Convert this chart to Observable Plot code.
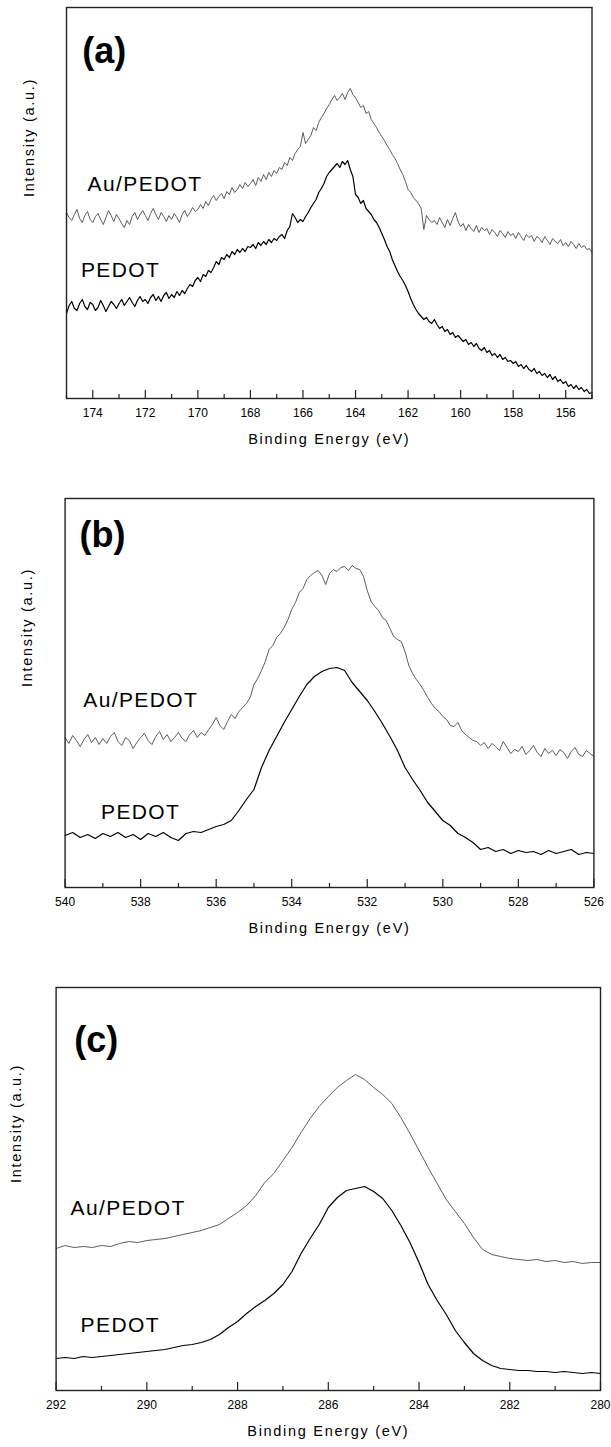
<!DOCTYPE html>
<html><head><meta charset="utf-8">
<script src="https://cdn.jsdelivr.net/npm/d3@7"></script>
<script src="https://cdn.jsdelivr.net/npm/@observablehq/plot@0.6"></script>
<style>
body{margin:0;background:#fff;}
#chart svg{display:block;}
</style></head><body><div id="chart"></div>
<script>
// ---------- Panel (a): S 2p region, 175 -> 155 eV, 0.1 eV grid ----------
const energyA = {start: 175, end: 155, step: 0.1};
const auPedotA = [
  186,181,178,184,189,180,176,183,187,179,
  176,182,185,179,174,181,188,183,177,184,
  180,175,171,178,174,182,186,179,184,188,
  183,178,185,190,184,179,186,182,177,183,
  179,185,181,176,184,188,182,186,191,187,
  189,194,190,197,193,199,203,198,202,205,
  200,207,204,211,206,209,214,210,216,212,
  215,219,213,221,217,224,219,226,222,228,
  225,231,229,236,233,241,238,245,249,252,
  266,255,259,263,271,268,276,281,285,290,
  294,299,303,298,301,305,299,306,310,304,
  301,296,291,293,285,287,279,275,271,266,
  262,258,253,249,244,240,235,229,224,217,
  209,206,201,198,195,190,169,183,179,176,
  178,174,181,176,171,179,173,180,186,177,
  172,175,168,174,170,167,173,166,171,168,
  170,164,169,166,162,168,165,161,167,163,
  165,160,166,162,158,164,161,163,157,162,
  160,156,162,158,154,160,157,155,159,153,
  156,152,157,154,150,155,151,153,149,150,
  146];
const pedotA = [
  85,93,97,90,88,95,99,92,89,96,
  94,88,91,98,93,87,92,97,94,90,
  95,99,93,97,101,96,92,98,102,97,
  99,95,101,104,98,102,97,103,106,100,
  104,101,107,103,108,105,110,114,112,118,
  121,117,124,122,128,126,131,137,134,141,
  139,144,141,147,144,149,146,150,147,152,
  151,154,150,156,153,157,154,159,156,160,
  158,162,164,160,168,172,185,181,176,179,
  177,182,186,191,195,199,206,210,215,222,
  226,229,232,235,231,237,234,238,229,222,
  204,201,195,198,190,187,184,179,176,171,
  165,159,152,147,139,133,127,122,118,113,
  107,100,94,89,85,82,79,81,77,75,
  79,74,70,72,67,69,64,66,61,63,
  60,57,59,54,56,52,55,50,48,51,
  46,48,43,45,41,44,39,41,37,38,
  35,37,32,34,30,33,29,27,30,25,
  27,23,25,21,24,19,22,17,19,15,
  17,12,14,10,13,9,11,7,9,5,
  6];
const ticksMajorA = [174,172,170,168,166,164,162,160,158,156];
const ticksMinorA = [175,173,171,169,167,165,163,161,159,157,155];

// ---------- Panel (b): O 1s region, 540 -> 526 eV ----------
const energyBau = {start: 540, end: 526, step: 0.1};
const auPedotB = [
  150,144,152,147,141,148,153,145,150,143,
  149,144,151,155,146,142,150,147,139,145,
  150,154,147,143,151,156,148,153,146,150,
  155,149,146,153,157,150,155,152,158,163,
  170,162,158,166,173,169,176,180,184,190,
  203,209,217,226,238,242,250,254,260,268,
  278,285,295,299,308,312,315,317,312,303,
  314,318,316,320,321,317,322,319,318,311,
  297,286,281,277,270,267,259,251,248,246,
  236,222,214,208,203,197,190,184,179,176,
  171,168,162,161,165,157,153,150,147,146,
  142,145,139,144,141,137,146,140,134,138,
  136,141,133,137,142,135,131,139,134,137,
  132,138,135,129,136,140,133,131,137,134,
  131];
const energyBpe = {start: 540, end: 526, step: 0.2};
const pedotB = [52,55,50,53,49,54,51,55,50,53,48,54,51,55,50,47,54,56,55,58,
  61,63,67,77,88,98,120,137,151,165,178,191,203,211,216,219,220,217,205,196,
  187,176,164,151,137,120,108,97,85,76,67,62,54,50,45,38,40,36,38,34,
  37,35,36,33,37,34,36,38,33,35,34];
const ticksMajorB = [540,538,536,534,532,530,528,526];
const ticksMinorB = [539,537,535,533,531,529,527];

// ---------- Panel (c): C 1s region, 292 -> 280 eV, 0.2 eV grid ----------
const energyC = {start: 292, end: 280, step: 0.2};
const auPedotC = [142,145,143,144,143,145,144,147,149,148,150,151,152,154,156,158,160,163,166,172,
  178,185,195,208,217,230,243,258,272,284,294,303,310,316,311,303,296,287,273,257,
  240,223,207,191,179,167,153,141,136,134,132,131,130,131,129,130,128,129,127,128,128];
const pedotC = [32,33,32,34,33,34,35,36,37,38,39,40,41,43,45,46,48,51,56,63,
  69,77,84,90,97,106,119,137,152,166,183,193,200,202,204,199,192,180,165,148,
  128,106,90,76,60,48,37,30,25,22,21,20,20,19,19,18,19,18,17,18,17];
const ticksMajorC = [292,290,288,286,284,282,280];
const ticksMinorC = [291,289,287,285,283,281];

// ---------- Text ----------
const seriesNames = ["Au/PEDOT", "PEDOT"];
const panelLetters = ["(a)", "(b)", "(c)"];
const xTitle = "Binding Energy (eV)";
const yTitle = "Intensity (a.u.)";
// label anchors in data units [energy, intensity]
const labelPosA = [[174.2, 214], [174.45, 128]];
const labelPosB = [[539.52, 187], [539.05, 75]];
const labelPosC = [[291.68, 182], [291.46, 65]];
const letterPos = [[174.4, 347], [539.62, 352], [291.6, 350]];

function series(grid, values) {
  return values.map((v, i) => ({energy: +(grid.start - i * grid.step).toFixed(3), value: v}));
}

const font = "'Liberation Sans', Arial, Helvetica, sans-serif";

function panel(o) {
  const au = series(o.gridAu, o.au), pe = series(o.gridPe, o.pedot);
  const labels = seriesNames.map((t, i) => ({text: t, energy: o.labelPos[i][0], value: o.labelPos[i][1]}));
  const svg = Plot.plot({
    width: 611, height: o.height,
    marginTop: o.m[0], marginRight: o.m[1], marginBottom: o.m[2], marginLeft: o.m[3],
    style: {fontFamily: font, color: "#000", background: "#fff", overflow: "visible"},
    x: {domain: [o.gridAu.start, o.gridAu.end], label: null},
    y: {domain: [0, o.yMax], axis: null},
    marks: [
      Plot.line(au, {x: "energy", y: "value", stroke: "#4a4a4a", strokeWidth: 0.9}),
      Plot.line(pe, {x: "energy", y: "value", stroke: "#000", strokeWidth: 1.2}),
      Plot.frame({stroke: "#222", strokeWidth: 1.4}),
      Plot.axisX({ticks: o.major, tickSize: -8, tickPadding: 18, fontSize: 12, label: null, stroke: "#222", strokeWidth: 1.2}),
      Plot.axisX({ticks: o.minor, tickSize: -4, tickFormat: () => "", label: null, stroke: "#222", strokeWidth: 1.2}),
      Plot.text([xTitle], {frameAnchor: "bottom", dy: 45, fontSize: 14.5, fill: "#000"}),
      Plot.text([yTitle], {frameAnchor: "left", rotate: -90, dx: o.yDx, dy: -6, fontSize: 14.5, fill: "#000"}),
      Plot.text(labels, {x: "energy", y: "value", text: "text", textAnchor: "start", fontSize: 21, fill: "#000"}),
      Plot.text([o.letter], {x: () => o.letterPos[0], y: () => o.letterPos[1], textAnchor: "start", fontSize: 36, fontWeight: "bold", fill: "#000"})
    ]
  });
  // letter spacing like the original typesetting
  d3.select(svg).selectAll("text").each(function () {
    const t = this.textContent;
    if (t === xTitle || t === yTitle) this.style.letterSpacing = "1.7px";
    else if (seriesNames.includes(t)) this.style.letterSpacing = "1.4px";
  });
  return svg;
}

const chart = document.getElementById("chart");
chart.append(panel({gridAu: energyA, gridPe: energyA, au: auPedotA, pedot: pedotA, major: ticksMajorA, minor: ticksMinorA,
  height: 470, m: [7, 19.5, 72, 66], yMax: 391, yDx: -37, labelPos: labelPosA, letter: panelLetters[0], letterPos: letterPos[0]}));
chart.append(panel({gridAu: energyBau, gridPe: energyBpe, au: auPedotB, pedot: pedotB, major: ticksMajorB, minor: ticksMinorB,
  height: 490, m: [28, 17.6, 73, 64.6], yMax: 389, yDx: -38, labelPos: labelPosB, letter: panelLetters[1], letterPos: letterPos[1]}));
chart.append(panel({gridAu: energyC, gridPe: energyC, au: auPedotC, pedot: pedotC, major: ticksMajorC, minor: ticksMinorC,
  height: 487, m: [27, 11, 57, 55.6], yMax: 403, yDx: -40, labelPos: labelPosC, letter: panelLetters[2], letterPos: letterPos[2]}));
</script></body></html>
